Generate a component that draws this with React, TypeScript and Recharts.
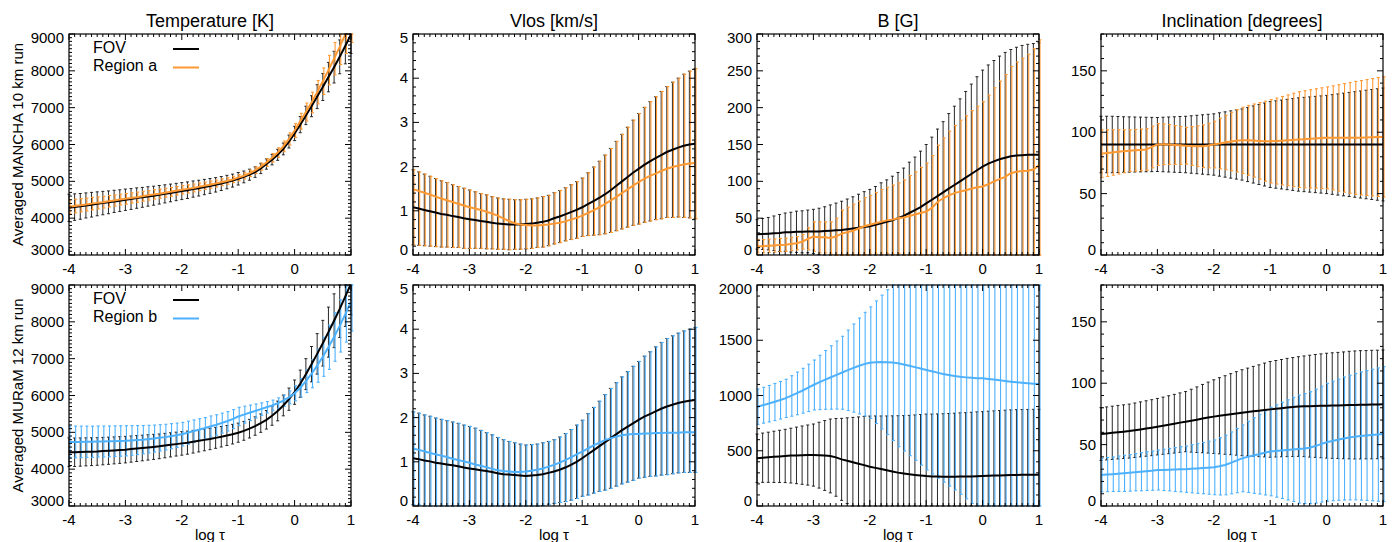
import React from 'react';
import { LineChart, Line, XAxis, YAxis, ErrorBar } from 'recharts';

const FONT = "'Liberation Sans', Arial, Helvetica, sans-serif";
const ORANGE = '#ff9933';
const BLUE = '#4db1ff';

// plot area size and the margins around it inside each small chart
const PW = 282;
const PH = 221;
const ML = 60;
const MT = 10;
const MB = 40;
const MR = 10;

const COLS = [69, 413, 757, 1101];
const ROWS = [34, 285];

const titles = ['Temperature [K]', 'Vlos [km/s]', 'B [G]', 'Inclination [degrees]'];
const rowLabels = ['Averaged MANCHA 10 km run', 'Averaged MURaM 12 km run'];
const regionNames = ['Region a', 'Region b'];
const regionColors = [ORANGE, BLUE];
const xLabel = 'log \u03c4';

const logTau = [
  -4.0, -3.9, -3.8, -3.7, -3.6, -3.5, -3.4, -3.3, -3.2, -3.1, -3.0,
  -2.9, -2.8, -2.7, -2.6, -2.5, -2.4, -2.3, -2.2, -2.1, -2.0,
  -1.9, -1.8, -1.7, -1.6, -1.5, -1.4, -1.3, -1.2, -1.1, -1.0,
  -0.9, -0.8, -0.7, -0.6, -0.5, -0.4, -0.3, -0.2, -0.1, 0.0,
  0.1, 0.2, 0.3, 0.4, 0.5, 0.6, 0.7, 0.8, 0.9, 1.0,
];

// ---- Temperature, MANCHA
const tempFovA = [
  4280, 4300, 4320, 4345, 4365, 4390, 4410, 4430, 4455, 4475, 4500,
  4520, 4545, 4565, 4590, 4610, 4635, 4660, 4685, 4710, 4735,
  4760, 4790, 4815, 4845, 4875, 4905, 4940, 4980, 5020, 5070,
  5120, 5180, 5250, 5350, 5470, 5590, 5720, 5880, 6080, 6300,
  6540, 6790, 7040, 7300, 7560, 7830, 8100, 8380, 8680, 8990,
];
const tempFovASd = [
  370, 360, 350, 340, 335, 325, 318, 310, 302, 295, 290,
  283, 277, 270, 264, 258, 252, 246, 240, 235, 230,
  225, 220, 214, 208, 202, 196, 190, 183, 176, 170,
  160, 150, 143, 140, 140, 143, 150, 160, 175, 195,
  220, 250, 285, 325, 365, 400, 430, 460, 490, 520,
];
const tempRegA = [
  4310, 4330, 4350, 4370, 4395, 4415, 4435, 4460, 4480, 4505, 4525,
  4550, 4570, 4595, 4620, 4645, 4665, 4690, 4715, 4745, 4770,
  4795, 4820, 4850, 4880, 4910, 4940, 4975, 5010, 5050, 5100,
  5150, 5220, 5300, 5400, 5510, 5640, 5780, 5950, 6150, 6380,
  6630, 6880, 7140, 7420, 7720, 8020, 8330, 8650, 8990, 9330,
];
const tempRegASd = [
  190, 185, 180, 175, 170, 165, 160, 156, 152, 148, 145,
  141, 138, 134, 131, 128, 125, 122, 119, 116, 113,
  110, 107, 104, 101, 98, 95, 92, 89, 86, 84,
  84, 86, 90, 96, 105, 116, 130, 146, 165, 188,
  215, 245, 280, 318, 360, 400, 440, 480, 520, 560,
];

// ---- Temperature, MURaM
const tempFovB = [
  4460, 4460, 4465, 4470, 4475, 4480, 4490, 4500, 4510, 4520, 4530,
  4545, 4560, 4575, 4590, 4605, 4620, 4640, 4660, 4680, 4700,
  4720, 4745, 4770, 4795, 4820, 4850, 4880, 4915, 4950, 4990,
  5040, 5100, 5170, 5250, 5340, 5450, 5580, 5730, 5900, 6090,
  6320, 6580, 6850, 7130, 7420, 7720, 8030, 8350, 8690, 9040,
];
const tempFovBSd = [
  390, 387, 384, 381, 378, 375, 372, 369, 366, 363, 360,
  356, 352, 348, 344, 340, 336, 332, 328, 324, 320,
  314, 308, 302, 296, 290, 284, 278, 272, 266, 260,
  256, 253, 250, 250, 252, 258, 268, 282, 302, 330,
  370, 420, 480, 550, 620, 680, 730, 775, 815, 850,
];
const tempRegB = [
  4740, 4740, 4740, 4745, 4745, 4750, 4750, 4755, 4760, 4765, 4770,
  4780, 4790, 4800, 4815, 4830, 4850, 4870, 4895, 4920, 4950,
  4990, 5030, 5070, 5110, 5160, 5200, 5250, 5300, 5360, 5430,
  5480, 5530, 5580, 5630, 5680, 5730, 5790, 5860, 5950, 6060,
  6210, 6390, 6590, 6810, 7050, 7310, 7590, 7890, 8210, 8550,
];
const tempRegBSd = [
  430, 430, 428, 426, 424, 422, 420, 418, 416, 413, 410,
  402, 394, 385, 376, 367, 358, 349, 340, 330, 320,
  313, 306, 299, 292, 285, 278, 271, 264, 257, 250,
  230, 210, 190, 170, 155, 145, 145, 155, 175, 205,
  250, 310, 380, 450, 530, 600, 660, 710, 760, 800,
];

// ---- Vlos, MANCHA (bars of both series sit on the FOV curve)
const vlosFovA = [
  1.08, 1.05, 1.02, 0.99, 0.96, 0.93, 0.91, 0.88, 0.86, 0.83, 0.81,
  0.79, 0.77, 0.75, 0.73, 0.71, 0.7, 0.69, 0.69, 0.69, 0.7,
  0.71, 0.73, 0.75, 0.78, 0.83, 0.87, 0.92, 0.97, 1.02, 1.08,
  1.15, 1.22, 1.29, 1.37, 1.46, 1.56, 1.66, 1.76, 1.86, 1.95,
  2.04, 2.12, 2.19, 2.26, 2.33, 2.38, 2.43, 2.47, 2.5, 2.52,
];
const vlosFovASd = [
  0.85, 0.83, 0.81, 0.79, 0.77, 0.75, 0.73, 0.71, 0.69, 0.68, 0.66,
  0.64, 0.62, 0.61, 0.59, 0.58, 0.57, 0.57, 0.56, 0.56, 0.56,
  0.56, 0.56, 0.57, 0.57, 0.58, 0.59, 0.6, 0.62, 0.64, 0.66,
  0.71, 0.77, 0.83, 0.89, 0.95, 1.01, 1.07, 1.13, 1.19, 1.25,
  1.3, 1.35, 1.39, 1.44, 1.48, 1.53, 1.57, 1.62, 1.66, 1.7,
];
const vlosRegA = [
  1.49, 1.45, 1.41, 1.37, 1.32, 1.28, 1.24, 1.2, 1.16, 1.12, 1.08,
  1.05, 1.02, 0.98, 0.94, 0.89, 0.83, 0.77, 0.72, 0.69, 0.68,
  0.67, 0.67, 0.68, 0.69, 0.71, 0.73, 0.76, 0.8, 0.84, 0.89,
  0.95, 1.01, 1.08, 1.15, 1.23, 1.31, 1.4, 1.48, 1.57, 1.65,
  1.72, 1.79, 1.84, 1.9, 1.95, 1.99, 2.02, 2.05, 2.07, 2.08,
];

// ---- Vlos, MURaM
const vlosFovB = [
  1.08, 1.06, 1.03, 1.01, 0.98, 0.96, 0.94, 0.92, 0.9, 0.87, 0.85,
  0.83, 0.81, 0.79, 0.77, 0.74, 0.72, 0.71, 0.7, 0.69, 0.68,
  0.69, 0.7, 0.72, 0.75, 0.78, 0.82, 0.87, 0.93, 1.0, 1.08,
  1.17, 1.26, 1.35, 1.44, 1.53, 1.62, 1.71, 1.79, 1.87, 1.95,
  2.02, 2.08, 2.14, 2.2, 2.25, 2.29, 2.33, 2.36, 2.38, 2.4,
];
const vlosFovBSd = [
  1.05, 1.04, 1.03, 1.02, 1.01, 1.0, 0.99, 0.98, 0.97, 0.96, 0.95,
  0.93, 0.9, 0.87, 0.84, 0.81, 0.78, 0.75, 0.73, 0.71, 0.7,
  0.7, 0.7, 0.71, 0.71, 0.72, 0.74, 0.77, 0.8, 0.83, 0.86,
  0.92, 0.97, 1.02, 1.08, 1.13, 1.17, 1.21, 1.25, 1.29, 1.32,
  1.37, 1.41, 1.46, 1.5, 1.54, 1.56, 1.58, 1.6, 1.62, 1.64,
];
const vlosRegB = [
  1.3, 1.27, 1.24, 1.2, 1.17, 1.14, 1.11, 1.07, 1.04, 1.01, 0.98,
  0.94, 0.91, 0.88, 0.84, 0.81, 0.79, 0.78, 0.77, 0.77, 0.78,
  0.8, 0.82, 0.85, 0.89, 0.93, 0.98, 1.04, 1.1, 1.17, 1.23,
  1.3, 1.37, 1.43, 1.49, 1.53, 1.57, 1.6, 1.62, 1.63, 1.63,
  1.64, 1.64, 1.65, 1.65, 1.66, 1.66, 1.66, 1.67, 1.67, 1.67,
];

// ---- B, MANCHA
const bFovA = [
  28, 28.5, 29, 29.5, 30, 31, 31, 31.5, 31.5, 32, 32,
  32, 32.5, 33, 33.5, 34, 35, 36, 37, 38, 39,
  41, 43, 45, 47, 50, 53, 57, 61, 65, 70,
  75, 80, 85, 90, 95, 100, 105, 110, 115, 120,
  124, 127, 130, 132, 134, 135, 135.5, 136, 136, 136,
];
const bFovASd = [
  20, 21, 22, 23.5, 25, 26, 27, 28, 28.5, 29, 30,
  31.5, 33, 35, 37, 39, 41, 43, 45.5, 48, 50,
  52, 55, 57, 60, 62, 65, 69, 72, 76, 80,
  85, 91, 96, 102, 107, 112, 117, 122, 127, 131,
  134, 137, 140, 143, 145, 147, 149, 150, 151, 152,
];
const bRegA = [
  12, 12, 12.5, 13, 13.5, 14, 15, 16, 18, 22, 25,
  24, 24, 23, 25, 29, 31, 33, 36, 39, 41,
  43, 45, 47, 48, 50, 51, 53, 55, 57, 59,
  64, 72, 77, 81, 84, 86, 88, 90, 92, 93,
  96, 100, 103, 106, 111, 113, 114, 114.5, 116, 122,
];
const bRegASd = [
  9, 9, 9, 9, 9, 9, 9, 9, 10, 15, 20,
  21, 21, 22, 25, 32, 34, 36, 37, 39, 40,
  42, 44, 45, 47, 48, 51, 55, 58, 62, 66,
  71, 77, 82, 87, 92, 97, 101, 106, 110, 115,
  121, 127, 133, 139, 145, 149, 153, 158, 164, 170,
];

// ---- B, MURaM
const bFovB = [
  432, 437, 441, 445, 449, 453, 456, 458, 460, 461, 461,
  460, 457, 453, 440, 422, 410, 396, 383, 370, 356,
  345, 334, 323, 312, 302, 294, 287, 281, 276, 271,
  268, 266, 265, 265, 265, 266, 267, 268, 270, 271,
  273, 275, 276, 278, 280, 281, 282, 282, 283, 283,
];
const bFovBSd = [
  219, 223, 227, 232, 236, 241, 248, 256, 264, 272, 281,
  298, 316, 334, 352, 371, 388, 406, 423, 441, 458,
  470, 481, 492, 504, 515, 524, 533, 543, 552, 561,
  564, 567, 570, 572, 575, 577, 578, 580, 582, 583,
  585, 586, 588, 589, 590, 591, 591, 592, 592, 592,
];
const bRegB = [
  899, 912, 926, 941, 957, 974, 996, 1019, 1043, 1069, 1095,
  1118, 1141, 1163, 1185, 1206, 1228, 1248, 1267, 1284, 1297,
  1301, 1303, 1302, 1298, 1291, 1281, 1269, 1257, 1244, 1231,
  1219, 1207, 1195, 1185, 1176, 1169, 1164, 1160, 1157, 1155,
  1150, 1144, 1138, 1131, 1125, 1120, 1115, 1111, 1107, 1104,
];
const bRegBSd = [
  160, 162, 165, 168, 170, 173, 183, 193, 203, 214, 226,
  246, 266, 287, 308, 330, 364, 399, 434, 469, 505,
  555, 605, 655, 705, 754, 784, 814, 844, 874, 905,
  930, 955, 980, 1005, 1031, 1064, 1099, 1136, 1172, 1200,
  1215, 1230, 1240, 1250, 1260, 1270, 1278, 1286, 1293, 1300,
];

// ---- Inclination, MANCHA
const incFovA = [
  90, 90, 90, 90, 90, 90, 90, 90, 90, 90, 90,
  90, 90, 90, 90, 90, 90, 90, 90, 90, 90,
  90, 90, 90, 90, 90, 90, 90, 90, 90, 90,
  90, 90, 90, 90, 90, 90, 90, 90, 90, 90,
  90, 90, 90, 90, 90, 90, 90, 90, 90, 90,
];
const incFovASd = [
  23, 23, 23, 22.8, 22.6, 22.5, 22.4, 22.3, 22.2, 22.1, 22,
  22.2, 22.4, 22.6, 22.8, 23, 23.4, 23.8, 24.2, 24.6, 25,
  25.8, 26.6, 27.4, 28.2, 29, 30.2, 31.4, 32.6, 33.8, 35,
  35.6, 36.2, 36.8, 37.4, 38, 38.4, 38.8, 39.2, 39.6, 40,
  40.6, 41.2, 41.8, 42.4, 43, 43.6, 44.2, 44.8, 45.4, 46,
];
const incRegA = [
  82.5, 83, 83.5, 84, 84.5, 85, 85.3, 85.6, 86, 88, 90,
  90.2, 90, 89.6, 89.3, 89, 88.8, 88.6, 88.6, 89.2, 90,
  90.8, 91.6, 92.4, 93, 93.4, 93.4, 93.2, 92.9, 92.7, 92.6,
  92.8, 93.1, 93.4, 93.7, 94, 94.3, 94.6, 94.9, 95.2, 95.4,
  95.4, 95.4, 95.4, 95.4, 95.4, 95.5, 95.7, 95.9, 96.1, 96.2,
];
const incRegASd = [
  19.5, 19, 18.5, 18, 17.5, 17, 17, 17, 17, 17, 17,
  16.6, 16.2, 15.8, 15.4, 15, 15.8, 16.6, 17.4, 18.2, 19,
  20.6, 22.2, 23.8, 25.4, 27, 28.4, 29.8, 31.2, 32.6, 34,
  35, 36, 37, 38, 39, 39.5, 40, 40.5, 41, 41.5,
  42.4, 43.3, 44.2, 45.1, 46, 46.6, 47.2, 47.8, 48.4, 49,
];

// ---- Inclination, MURaM
const incFovB = [
  58.6, 59.1, 59.6, 60.1, 60.5, 61, 61.7, 62.4, 63.1, 63.8, 64.6,
  65.4, 66.2, 67, 67.9, 68.7, 69.5, 70.3, 71.2, 72, 72.8,
  73.5, 74.1, 74.8, 75.4, 76, 76.5, 77.1, 77.6, 78.2, 78.7,
  79.2, 79.7, 80.2, 80.6, 81, 81.2, 81.3, 81.5, 81.6, 81.7,
  81.8, 81.9, 82, 82.2, 82.3, 82.4, 82.5, 82.6, 82.7, 82.8,
];
const incFovBSd = [
  21.5, 21.6, 21.7, 21.8, 21.9, 22, 22.2, 22.4, 22.6, 22.8, 23,
  23.3, 23.6, 23.9, 24.2, 24.5, 25.6, 26.7, 27.8, 28.9, 30,
  31, 32, 33, 34, 35, 35.8, 36.6, 37.4, 38.2, 39,
  39.3, 39.6, 40, 40.3, 40.6, 41, 41.5, 41.9, 42.3, 42.7,
  43, 43.2, 43.5, 43.8, 44, 44.1, 44.1, 44.2, 44.2, 44.3,
];
const incRegB = [
  25.2, 25.6, 25.9, 26.3, 26.6, 27, 27.5, 27.9, 28.4, 28.8, 29.3,
  29.4, 29.6, 29.7, 29.9, 30, 30.3, 30.6, 30.9, 31.2, 31.5,
  32.3, 33.4, 35.1, 37, 38.8, 40, 41.1, 42.2, 43.3, 44.3,
  44.8, 45.3, 45.7, 46.1, 46.4, 46.8, 47.5, 48.8, 50.4, 51.9,
  53, 54, 55, 55.8, 56.5, 57, 57.4, 57.8, 58.2, 58.6,
];
const incRegBSd = [
  13.6, 13.9, 14.1, 14.4, 14.7, 14.9, 15.2, 15.5, 15.8, 16, 16.3,
  16.8, 17.3, 17.9, 18.4, 18.9, 19.6, 20.3, 20.9, 21.6, 22.3,
  23.3, 24.3, 25.2, 26.2, 27.2, 29, 30.8, 32.5, 34.3, 36,
  37.6, 39.2, 40.8, 42.4, 44, 44.8, 45.6, 46.4, 47.2, 48,
  48.7, 49.4, 50.1, 50.8, 51.5, 52.2, 52.9, 53.6, 54.3, 55,
];

type PanelDef = {
  row: number;
  col: number;
  domain: [number, number];
  major: number;
  minor: number;
  fov: number[];
  fovSd: number[];
  reg: number[];
  regSd?: number[]; // when missing, the region bars reuse the FOV bars
};

const panels: PanelDef[] = [
  { row: 0, col: 0, domain: [3000, 9000], major: 1000, minor: 100, fov: tempFovA, fovSd: tempFovASd, reg: tempRegA, regSd: tempRegASd },
  { row: 0, col: 1, domain: [0, 5], major: 1, minor: 0.2, fov: vlosFovA, fovSd: vlosFovASd, reg: vlosRegA },
  { row: 0, col: 2, domain: [0, 300], major: 50, minor: 10, fov: bFovA, fovSd: bFovASd, reg: bRegA, regSd: bRegASd },
  { row: 0, col: 3, domain: [0, 180], major: 50, minor: 10, fov: incFovA, fovSd: incFovASd, reg: incRegA, regSd: incRegASd },
  { row: 1, col: 0, domain: [3000, 9000], major: 1000, minor: 100, fov: tempFovB, fovSd: tempFovBSd, reg: tempRegB, regSd: tempRegBSd },
  { row: 1, col: 1, domain: [0, 5], major: 1, minor: 0.2, fov: vlosFovB, fovSd: vlosFovBSd, reg: vlosRegB },
  { row: 1, col: 2, domain: [0, 2000], major: 500, minor: 100, fov: bFovB, fovSd: bFovBSd, reg: bRegB, regSd: bRegBSd },
  { row: 1, col: 3, domain: [0, 180], major: 50, minor: 10, fov: incFovB, fovSd: incFovBSd, reg: incRegB, regSd: incRegBSd },
];

function steps(a: number, b: number, s: number) {
  const out: number[] = [];
  const n = Math.round((b - a) / s);
  for (let i = 0; i <= n; i++) out.push(Math.round((a + i * s) * 1e6) / 1e6);
  return out;
}

const xTicks = steps(-4, 1, 0.1);

// error bar as [down, up] relative to the plotted value, kept inside the frame
function bar(value: number, centre: number, sd: number, lo: number, hi: number) {
  const a = Math.max(centre - sd, lo);
  const b = Math.min(centre + sd, hi);
  return [value - a, b - value];
}

function XTick(props: any) {
  const { x, y, payload } = props;
  const v = payload.value;
  const major = Math.abs(v - Math.round(v)) < 1e-6;
  const len = major ? 6 : 3;
  return (
    <g>
      {v === -4 && (
        <rect x={x} y={y - PH} width={PW} height={PH} fill="none" stroke="#000" strokeWidth={1.2} />
      )}
      <line x1={x} y1={y} x2={x} y2={y - len} stroke="#000" strokeWidth={1} />
      <line x1={x} y1={y - PH} x2={x} y2={y - PH + len} stroke="#000" strokeWidth={1} />
      {major && (
        <text x={x} y={y + 19} textAnchor="middle" fontSize={15} fontFamily={FONT} fill="#000">
          {String(v)}
        </text>
      )}
    </g>
  );
}

function makeYTick(domain: [number, number], major: number) {
  return (props: any) => {
    const { x, y, payload } = props;
    const v = payload.value;
    const isMajor = Math.abs(v / major - Math.round(v / major)) < 1e-6;
    const len = isMajor ? 6 : 3;
    const shift = v === domain[1] ? 4 : v === domain[0] ? -5 : 0;
    return (
      <g>
        <line x1={x} y1={y} x2={x + len} y2={y} stroke="#000" strokeWidth={1} />
        <line x1={x + PW} y1={y} x2={x + PW - len} y2={y} stroke="#000" strokeWidth={1} />
        {isMajor && (
          <text x={x - 5} y={y + 5 + shift} textAnchor="end" fontSize={15} fontFamily={FONT} fill="#000">
            {String(v)}
          </text>
        )}
      </g>
    );
  };
}

function Panel({ def }: { def: PanelDef }) {
  const [lo, hi] = def.domain;
  const color = regionColors[def.row];
  const data = logTau.map((x, i) => {
    const f = def.fov[i];
    const r = def.reg[i];
    const rc = def.regSd ? r : f;
    const rs = def.regSd ? def.regSd[i] : def.fovSd[i];
    return {
      x,
      fov: f,
      reg: r,
      fovErr: bar(f, f, def.fovSd[i], lo, hi),
      regErr: bar(r, rc, rs, lo, hi),
    };
  });
  const left = COLS[def.col] - ML;
  const top = ROWS[def.row] - MT;
  return (
    <div style={{ position: 'absolute', left, top }}>
      <LineChart
        width={ML + PW + MR}
        height={MT + PH + MB}
        data={data}
        margin={{ top: MT, right: MR, bottom: 0, left: 0 }}
      >
        <XAxis
          dataKey="x"
          type="number"
          domain={[-4, 1]}
          ticks={xTicks}
          interval={0}
          tick={XTick}
          tickLine={false}
          axisLine={false}
          tickSize={0}
          tickMargin={0}
          height={MB}
          allowDataOverflow
        />
        <YAxis
          type="number"
          domain={def.domain}
          ticks={steps(lo, hi, def.minor)}
          interval={0}
          tick={makeYTick(def.domain, def.major)}
          tickLine={false}
          axisLine={false}
          tickSize={0}
          tickMargin={0}
          width={ML}
          allowDataOverflow
        />
        <Line dataKey="fov" stroke="none" dot={false} activeDot={false} isAnimationActive={false}>
          <ErrorBar dataKey="fovErr" direction="y" width={1.5} stroke="#111" strokeWidth={0.9} isAnimationActive={false} />
        </Line>
        <Line dataKey="reg" stroke="none" dot={false} activeDot={false} isAnimationActive={false}>
          <ErrorBar
            dataKey="regErr"
            direction="y"
            width={1.5}
            stroke={color}
            strokeWidth={1.1}
            transform="translate(1,0)"
            isAnimationActive={false}
          />
        </Line>
        <Line dataKey="fov" type="linear" stroke="#000" strokeWidth={2} dot={false} activeDot={false} isAnimationActive={false} />
        <Line dataKey="reg" type="linear" stroke={color} strokeWidth={2} dot={false} activeDot={false} isAnimationActive={false} />
      </LineChart>
    </div>
  );
}

function Labels() {
  return (
    <svg
      width={1394}
      height={542}
      style={{ position: 'absolute', left: 0, top: 0, pointerEvents: 'none' }}
      fontFamily={FONT}
    >
      {titles.map((t, i) => (
        <text key={t} x={COLS[i] + PW / 2} y={27} textAnchor="middle" fontSize={18} fill="#000">
          {t}
        </text>
      ))}
      {rowLabels.map((t, r) => (
        <text
          key={t}
          x={23}
          y={ROWS[r] + PH / 2}
          textAnchor="middle"
          fontSize={15}
          fill="#000"
          transform={`rotate(-90, 23, ${ROWS[r] + PH / 2})`}
        >
          {t}
        </text>
      ))}
      {COLS.map((c) => (
        <text key={c} x={c + PW / 2} y={540} textAnchor="middle" fontSize={15} fill="#000">
          {xLabel}
        </text>
      ))}
      {ROWS.map((r, i) => (
        <g key={r}>
          <text x={COLS[0] + 24} y={r + 19} fontSize={16} fill="#000">FOV</text>
          <line x1={COLS[0] + 104} x2={COLS[0] + 130} y1={r + 15} y2={r + 15} stroke="#000" strokeWidth={2} />
          <text x={COLS[0] + 24} y={r + 37} fontSize={16} fill="#000">{regionNames[i]}</text>
          <line x1={COLS[0] + 104} x2={COLS[0] + 130} y1={r + 33.5} y2={r + 33.5} stroke={regionColors[i]} strokeWidth={2} />
        </g>
      ))}
    </svg>
  );
}

export default function App() {
  return (
    <div style={{ position: 'absolute', left: 0, top: 0, width: 1394, height: 542, background: '#fff', fontFamily: FONT }}>
      {panels.map((p) => (
        <Panel key={`${p.row}-${p.col}`} def={p} />
      ))}
      <Labels />
    </div>
  );
}
